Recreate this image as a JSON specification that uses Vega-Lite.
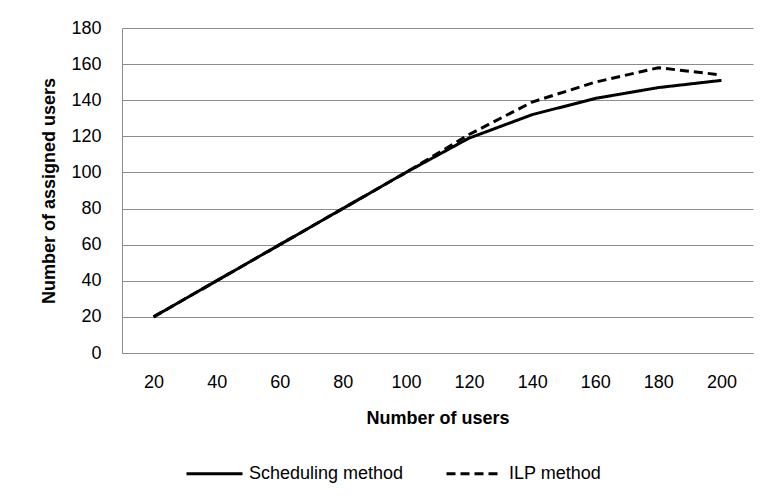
{
  "$schema": "https://vega.github.io/schema/vega-lite/v6.json",
  "autosize": {"type": "none"},
  "width": 631,
  "height": 325,
  "padding": {"left": 122, "top": 28, "right": 13, "bottom": 151},
  "background": "white",
  "config": {
    "font": "Liberation Sans",
    "view": {"stroke": null},
    "axis": {
      "labelFont": "Liberation Sans",
      "labelFontSize": 18,
      "labelColor": "#000000",
      "titleFont": "Liberation Sans",
      "titleFontSize": 18,
      "titleFontWeight": "bold",
      "titleColor": "#000000",
      "domainColor": "#8c8c8c",
      "gridColor": "#8c8c8c",
      "ticks": false
    }
  },
  "data": {
    "values": [
      {"users": 20, "assigned": 20, "method": "Scheduling method"},
      {"users": 40, "assigned": 40, "method": "Scheduling method"},
      {"users": 60, "assigned": 60, "method": "Scheduling method"},
      {"users": 80, "assigned": 80, "method": "Scheduling method"},
      {"users": 100, "assigned": 100, "method": "Scheduling method"},
      {"users": 120, "assigned": 119, "method": "Scheduling method"},
      {"users": 140, "assigned": 132, "method": "Scheduling method"},
      {"users": 160, "assigned": 141, "method": "Scheduling method"},
      {"users": 180, "assigned": 147, "method": "Scheduling method"},
      {"users": 200, "assigned": 151, "method": "Scheduling method"},
      {"users": 20, "assigned": 20, "method": "ILP method"},
      {"users": 40, "assigned": 40, "method": "ILP method"},
      {"users": 60, "assigned": 60, "method": "ILP method"},
      {"users": 80, "assigned": 80, "method": "ILP method"},
      {"users": 100, "assigned": 100, "method": "ILP method"},
      {"users": 120, "assigned": 121, "method": "ILP method"},
      {"users": 140, "assigned": 139, "method": "ILP method"},
      {"users": 160, "assigned": 150, "method": "ILP method"},
      {"users": 180, "assigned": 158, "method": "ILP method"},
      {"users": 200, "assigned": 154, "method": "ILP method"}
    ]
  },
  "mark": {"type": "line", "color": "#000000", "strokeWidth": 3},
  "encoding": {
    "x": {
      "field": "users",
      "type": "ordinal",
      "scale": {"type": "point", "padding": 0.5},
      "axis": {"title": "Number of users", "labelAngle": 0, "labelPadding": 20, "titlePadding": 18, "grid": false}
    },
    "y": {
      "field": "assigned",
      "type": "quantitative",
      "scale": {"domain": [0, 180], "nice": false},
      "axis": {"title": "Number of assigned users", "values": [0, 20, 40, 60, 80, 100, 120, 140, 160, 180], "labelPadding": 21, "titlePadding": 12, "grid": true}
    },
    "strokeDash": {
      "field": "method",
      "type": "nominal",
      "scale": {"domain": ["Scheduling method", "ILP method"], "range": [[1, 0], [9, 5]]},
      "legend": {
        "title": null,
        "orient": "none",
        "direction": "horizontal",
        "legendX": 63,
        "legendY": 416,
        "symbolType": "stroke",
        "symbolSize": 3136,
        "symbolStrokeWidth": 3,
        "symbolStrokeColor": "#000000",
        "labelFont": "Liberation Sans",
        "labelFontSize": 18,
        "labelColor": "#000000",
        "labelOffset": 5,
        "columnPadding": 36,
        "labelLimit": 300
      }
    }
  }
}
